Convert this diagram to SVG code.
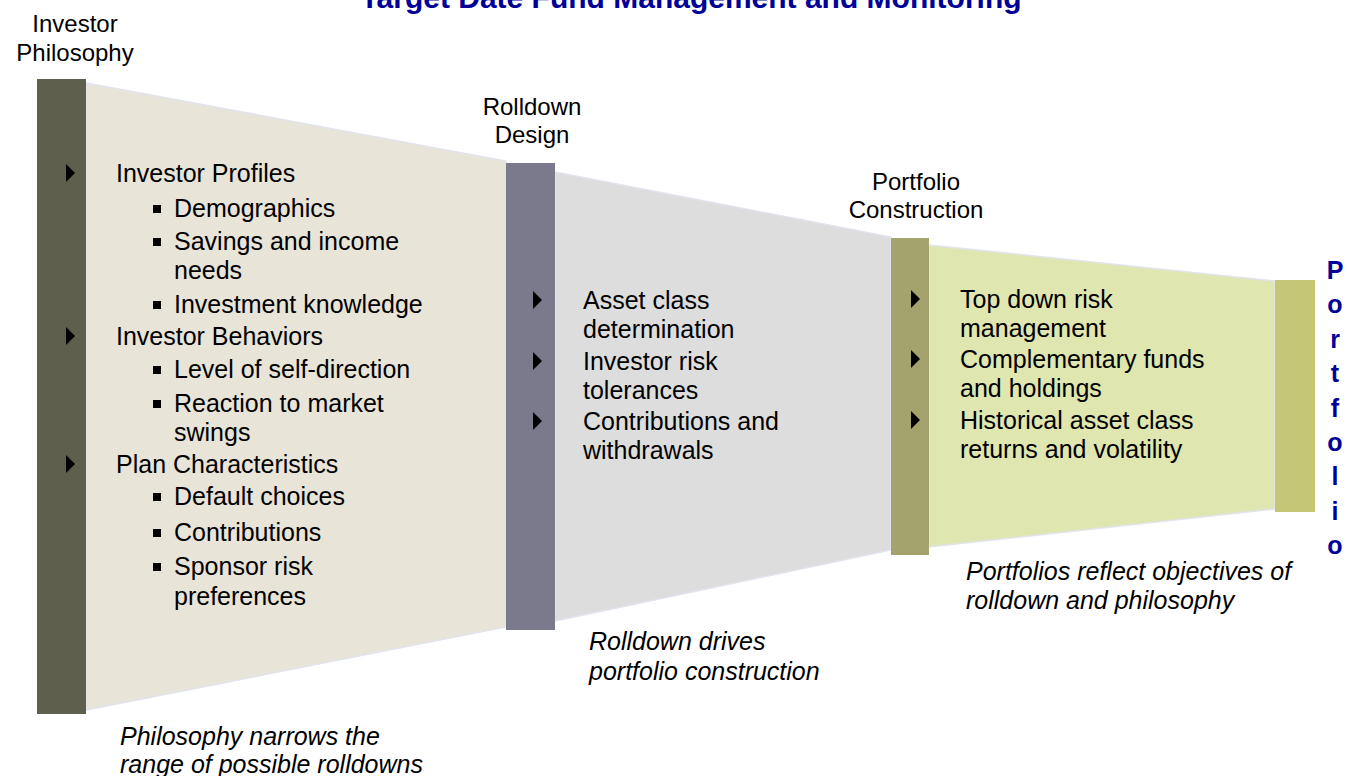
<svg xmlns="http://www.w3.org/2000/svg" width="1347" height="776" viewBox="0 0 1347 776">
  <style>
    text { font-family: "Liberation Sans", Arial, sans-serif; fill: #000; }
    .title { font-size: 30px; font-weight: bold; fill: #000099; text-anchor: middle; }
    .head { font-size: 24px; text-anchor: middle; }
    .body { font-size: 25px; }
    .note { font-size: 25px; font-style: italic; }
    .vert { font-size: 25px; font-weight: bold; fill: #000099; text-anchor: middle; }
    .band { stroke: #e1e3ee; stroke-width: 1.5; }
    .arrow { fill: #000; }
    .sq { fill: #000; }
  </style>
  <defs>
    <path id="tri" d="M0,0 L9,9 L0,18 Z"/>
    <rect id="sq" width="8" height="8"/>
  </defs>

  <rect width="1347" height="776" fill="#fff"/>

  <text class="title" x="691" y="8">Target Date Fund Management and Monitoring</text>

  <!-- bands joining each stage to the next -->
  <g id="connectors">
    <polygon class="band" fill="#e9e4d8" points="86,83 506,161 506,627 86,710"/>
    <polygon class="band" fill="#dddddd" points="555,172 891,237 891,550 555,621"/>
    <polygon class="band" fill="#dfe6b0" points="929,245 1275,281 1275,509 929,547"/>
  </g>

  <!-- stage 1 -->
  <g id="investor-philosophy">
    <rect x="37" y="79" width="49" height="635" fill="#5e5f4c"/>
    <text class="head" x="75" y="32">Investor</text>
    <text class="head" x="75" y="61">Philosophy</text>
    <use href="#tri" x="66" y="164"/>
    <text class="body" x="116" y="182">Investor Profiles</text>
    <use href="#sq" x="153" y="205"/>
    <text class="body" x="174" y="217">Demographics</text>
    <use href="#sq" x="153" y="238"/>
    <text class="body" x="174" y="250">Savings and income</text>
    <text class="body" x="174" y="279">needs</text>
    <use href="#sq" x="153" y="301"/>
    <text class="body" x="174" y="313">Investment knowledge</text>
    <use href="#tri" x="66" y="327"/>
    <text class="body" x="116" y="345">Investor Behaviors</text>
    <use href="#sq" x="153" y="366"/>
    <text class="body" x="174" y="378">Level of self-direction</text>
    <use href="#sq" x="153" y="400"/>
    <text class="body" x="174" y="412">Reaction to market</text>
    <text class="body" x="174" y="441">swings</text>
    <use href="#tri" x="66" y="455"/>
    <text class="body" x="116" y="473">Plan Characteristics</text>
    <use href="#sq" x="153" y="493"/>
    <text class="body" x="174" y="505">Default choices</text>
    <use href="#sq" x="153" y="529"/>
    <text class="body" x="174" y="541">Contributions</text>
    <use href="#sq" x="153" y="563"/>
    <text class="body" x="174" y="575">Sponsor risk</text>
    <text class="body" x="174" y="605">preferences</text>
    <text class="note" x="120" y="745">Philosophy narrows the</text>
    <text class="note" x="120" y="773">range of possible rolldowns</text>
  </g>

  <!-- stage 2 -->
  <g id="rolldown-design">
    <rect x="506" y="163" width="49" height="467" fill="#7b7a8c"/>
    <text class="head" x="532" y="115">Rolldown</text>
    <text class="head" x="532" y="143">Design</text>
    <use href="#tri" x="533" y="291"/>
    <text class="body" x="583" y="309">Asset class</text>
    <text class="body" x="583" y="338">determination</text>
    <use href="#tri" x="533" y="352"/>
    <text class="body" x="583" y="370">Investor risk</text>
    <text class="body" x="583" y="399">tolerances</text>
    <use href="#tri" x="533" y="412"/>
    <text class="body" x="583" y="430">Contributions and</text>
    <text class="body" x="583" y="459">withdrawals</text>
    <text class="note" x="589" y="650">Rolldown drives</text>
    <text class="note" x="589" y="680">portfolio construction</text>
  </g>

  <!-- stage 3 -->
  <g id="portfolio-construction">
    <rect x="891" y="238" width="38" height="317" fill="#a4a36d"/>
    <text class="head" x="916" y="190">Portfolio</text>
    <text class="head" x="916" y="218">Construction</text>
    <use href="#tri" x="911" y="290"/>
    <text class="body" x="960" y="308">Top down risk</text>
    <text class="body" x="960" y="337">management</text>
    <use href="#tri" x="911" y="350"/>
    <text class="body" x="960" y="368">Complementary funds</text>
    <text class="body" x="960" y="397">and holdings</text>
    <use href="#tri" x="911" y="411"/>
    <text class="body" x="960" y="429">Historical asset class</text>
    <text class="body" x="960" y="458">returns and volatility</text>
    <text class="note" x="966" y="580">Portfolios reflect objectives of</text>
    <text class="note" x="966" y="609">rolldown and philosophy</text>
  </g>

  <!-- stage 4 -->
  <g id="portfolio">
    <rect x="1275" y="280" width="40" height="232" fill="#c6c775"/>
    <text class="vert" x="1335" y="279">P</text>
    <text class="vert" x="1335" y="313">o</text>
    <text class="vert" x="1335" y="348">r</text>
    <text class="vert" x="1335" y="382">t</text>
    <text class="vert" x="1335" y="417">f</text>
    <text class="vert" x="1335" y="451">o</text>
    <text class="vert" x="1335" y="485">l</text>
    <text class="vert" x="1335" y="520">i</text>
    <text class="vert" x="1335" y="554">o</text>
  </g>
</svg>
